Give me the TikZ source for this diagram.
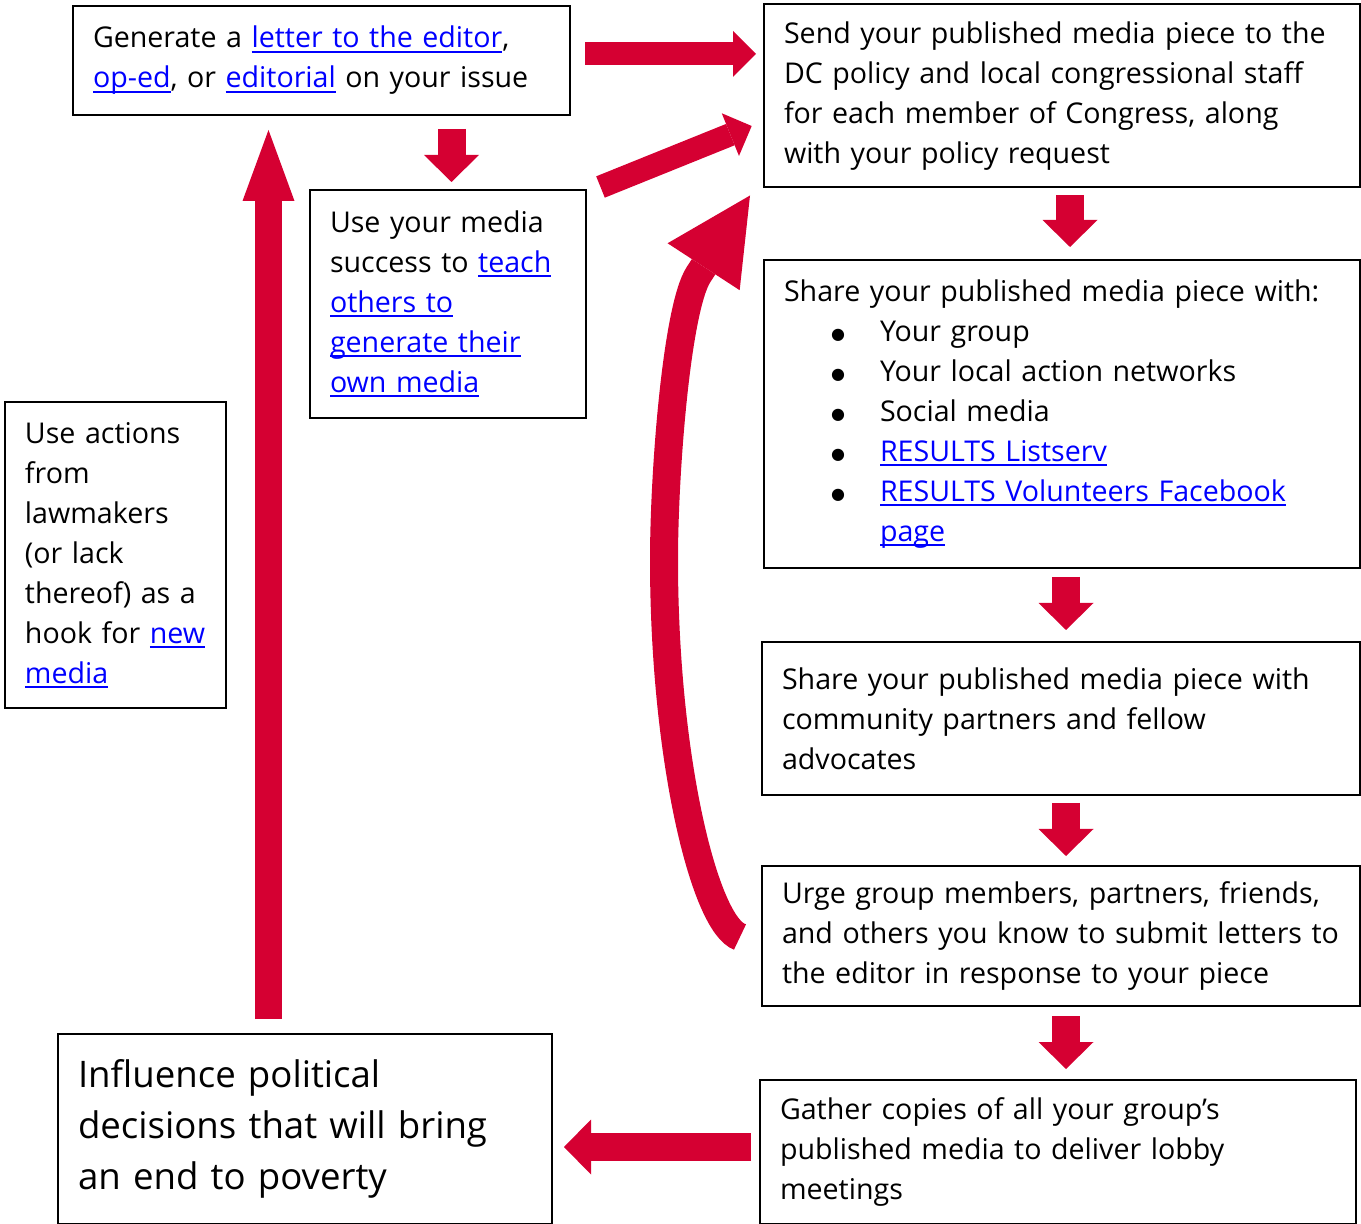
\documentclass[tikz,border=0pt]{standalone}
\usepackage{fontspec}
\setmainfont{Open Sans}
\newfontfamily\symfont{DejaVu Sans}
\usepackage{tikz}
\usetikzlibrary{arrows.meta,calc,positioning}
\definecolor{resred}{HTML}{D50032}
\definecolor{linkblue}{HTML}{0000FF}
\newlength{\lnkwd}
\newcommand{\lnk}[1]{\leavevmode\settowidth{\lnkwd}{#1}{\color{linkblue}\rlap{\rule[-2.3pt]{\lnkwd}{0.9pt}}#1}}
\newcommand{\itm}{\hspace*{27pt}\makebox[0pt]{\raisebox{1pt}{\symfont\fontsize{8}{8}\selectfont ●}}\hspace*{21pt}}
\tikzstyle{Box} = [rectangle, draw=black, line width=1pt, inner xsep=10pt, align=left, font=\fontsize{14.3}{20}\selectfont]
\tikzstyle{BigBox} = [Box, font=\fontsize{18.3}{25.5}\selectfont]
\tikzstyle{arrow} = [draw=resred, line width=11.5pt, -{Triangle[length=11.5pt, width=23pt, line width=0pt]}]
\tikzstyle{bigarrow} = [draw=resred, line width=14pt, -{Triangle[length=13.5pt, width=27.5pt, line width=0pt]}]
\tikzstyle{uparrow} = [draw=resred, line width=13.5pt, -{Triangle[length=35.5pt, width=26pt, line width=0pt]}]
\tikzstyle{curvearrow} = [draw=resred, line width=14pt, -{Triangle[length=42.5pt, width=43pt, line width=0pt]}]

\begin{document}
\begin{tikzpicture}[x=0.5pt, y=-0.5pt]
\useasboundingbox (0,0) rectangle (1361,1224);

\node (Generate)[Box, text width=228.5pt, minimum height=54.5pt] at (321.5,60.5){Generate a \lnk{letter to the editor},\\
\lnk{op-ed}, or \lnk{editorial} on your issue
};

\node (Send Piece)[Box, text width=278pt, minimum height=91.5pt] at (1062,96){Send your published media piece to the\\
DC policy and local congressional staff\\
for each member of Congress, along\\
with your policy request
};

\node (Teach Others)[Box, text width=118pt, minimum height=114pt] at (448,304){Use your media\\
success to \lnk{teach}\\
\lnk{others to}\\
\lnk{generate their}\\
\lnk{own media}
};

\node (New Hook)[Box, text width=90.5pt, minimum height=153pt] at (115.5,555){Use actions\\
from\\
lawmakers\\
(or lack\\
thereof) as a\\
hook for \lnk{new}\\
\lnk{media}
};

\node (Share Piece)[Box, text width=278pt, minimum height=154pt] at (1062,414){Share your published media piece with:\\
\itm Your group\\
\itm Your local action networks\\
\itm Social media\\
\itm \lnk{RESULTS Listserv}\\
\itm \lnk{RESULTS Volunteers Facebook}\\
\hspace*{48pt}\lnk{page}
};

\node (Share Partners)[Box, text width=279pt, minimum height=76.5pt] at (1061,718.5){Share your published media piece with\\
community partners and fellow\\
advocates
};

\node (Urge Letters)[Box, text width=279pt, minimum height=70pt] at (1061,936){Urge group members, partners, friends,\\
and others you know to submit letters to\\
the editor in response to your piece
};

\node (Gather Copies)[Box, text width=278pt, minimum height=72pt] at (1058,1152){Gather copies of all your group’s\\
published media to deliver lobby\\
meetings
};

\node (Influence)[BigBox, text width=227pt, minimum height=95pt] at (305,1129){Influence political\\
decisions that will bring\\
an end to poverty
};

\draw[arrow]([shift={(14,-6.5)}]Generate.east)--([shift={(-7,-42)}]Send Piece.west);
\draw[arrow]([shift={(13.5,-2)}]Teach Others.north east)--([shift={(-11.3,30)}]Send Piece.west);
\draw[bigarrow]([shift={(130,13)}]Generate.south)--([shift={(3.5,-7)}]Teach Others.north);
\draw[bigarrow]([shift={(8,7)}]Send Piece.south)--([shift={(8,-12)}]Share Piece.north);
\draw[bigarrow]([shift={(4,8)}]Share Piece.south)--([shift={(5,-11)}]Share Partners.north);
\draw[bigarrow]([shift={(5,7)}]Share Partners.south)--([shift={(5,-9)}]Urge Letters.north);
\draw[bigarrow]([shift={(5,9)}]Urge Letters.south)--([shift={(8,-10)}]Gather Copies.north);
\draw[bigarrow]([shift={(-8,-5)}]Gather Copies.west)--([shift={(11,18)}]Influence.east);
\draw[uparrow]([shift={(-36.5,-14)}]Influence.north)--([shift={(-53,14)}]Generate.south);

% loop back from the letters to the staff
\draw[curvearrow]([shift={(-21,1)}]Urge Letters.west) .. controls (705,925) and (664,760) .. (664,560)
  .. controls (664,470) and (676.9,308.2) .. (698.5,274.6)--([shift={(-13,7)}]Send Piece.south west);

\end{tikzpicture}
\end{document}
